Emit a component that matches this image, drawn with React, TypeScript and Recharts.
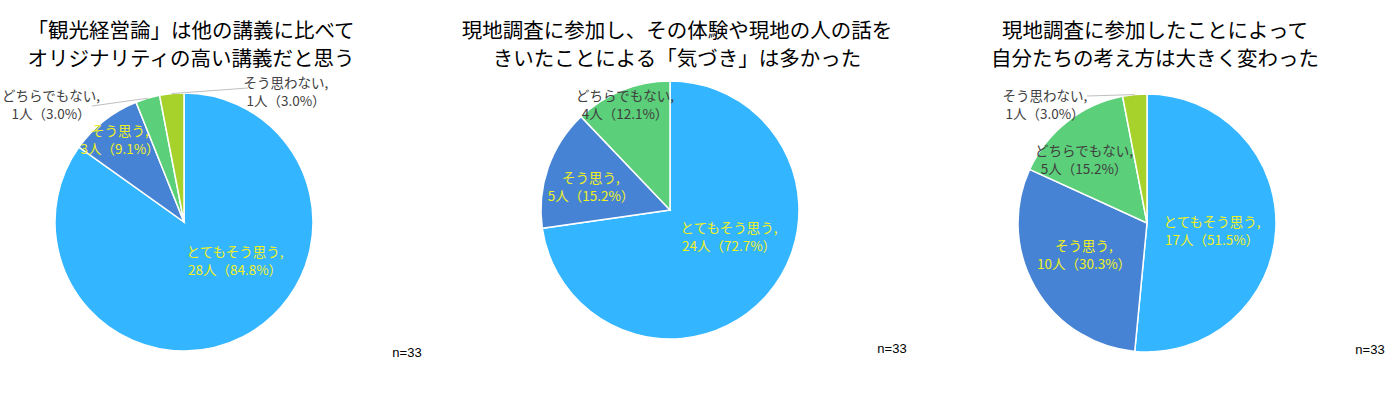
import React from 'react';
import { PieChart, Pie, Cell } from 'recharts';

const categories = ['とてもそう思う', 'そう思う', 'どちらでもない', 'そう思わない'];
const colors = ['#33B5FF', '#4683D4', '#5BCF79', '#A7D12B'];

const titles1 = ['「観光経営論」は他の講義に比べて', 'オリジナリティの高い講義だと思う'];
const titles2 = ['現地調査に参加し、その体験や現地の人の話を', 'きいたことによる「気づき」は多かった'];
const titles3 = ['現地調査に参加したことによって', '自分たちの考え方は大きく変わった'];

const values1 = [28, 3, 1, 1];
const values2 = [24, 5, 4];
const values3 = [17, 10, 5, 1];

const sampleNote = 'n=33';

const YELLOW = '#F0F01E';
const GRAY = '#404040';
const FONT = '"Noto Sans CJK JP", "Noto Sans", sans-serif';

// label placement relative to pie centre (dx, dy of first line), optional leader end
type Place = { dx: number; dy: number; color: string; lx?: number; ly?: number };

const place1: Place[] = [
  { dx: 51, dy: 29, color: YELLOW },
  { dx: -64, dy: -92, color: YELLOW },
  { dx: -133, dy: -127, color: GRAY, lx: -92, ly: -116 },
  { dx: 102, dy: -140, color: GRAY, lx: 64, ly: -134 },
];
const place2: Place[] = [
  { dx: 59, dy: 17, color: YELLOW },
  { dx: -79, dy: -33, color: YELLOW },
  { dx: -45, dy: -115, color: GRAY },
];
const place3: Place[] = [
  { dx: 65, dy: -2, color: YELLOW },
  { dx: -63, dy: 22, color: YELLOW },
  { dx: -63, dy: -73, color: GRAY },
  { dx: -102, dy: -128, color: GRAY, lx: -60, ly: -127 },
];

const RAD = Math.PI / 180;

const makeLabel = (place: Place[], total: number) => (props: any) => {
  const { cx, cy, midAngle, outerRadius, index, value } = props;
  const p = place[index];
  if (!p) return null;
  const name = categories[index];
  const x = cx + p.dx;
  const y = cy + p.dy;
  const pct = ((value / total) * 100).toFixed(1);
  let leader = null;
  if (p.lx !== undefined && p.ly !== undefined) {
    const sx = cx + outerRadius * Math.cos(-midAngle * RAD);
    const sy = cy + outerRadius * Math.sin(-midAngle * RAD);
    leader = <line x1={sx} y1={sy} x2={cx + p.lx} y2={cy + p.ly} stroke="#BFBFBF" strokeWidth={1} />;
  }
  return (
    <g>
      {leader}
      <text x={x} y={y} textAnchor="middle" dominantBaseline="central" fill={p.color} fontSize={13.5} fontFamily={FONT}>
        {name},
      </text>
      <text x={x} y={y + 17.5} textAnchor="middle" dominantBaseline="central" fill={p.color} fontSize={13.5} fontFamily={FONT}>
        {`${value}人（${pct}%）`}
      </text>
    </g>
  );
};

interface PanelProps {
  left: number;
  cx: number;
  cy: number;
  values: number[];
  place: Place[];
  title: string[];
  titleX: number;
  noteX: number;
  noteY: number;
}

const Panel: React.FC<PanelProps> = ({ left, cx, cy, values, place, title, titleX, noteX, noteY }) => {
  const data = values.map((v, i) => ({ name: categories[i], value: v }));
  const total = values.reduce((a, b) => a + b, 0);
  return (
    <div style={{ position: 'absolute', left, top: 0, width: 466, height: 396 }}>
      <PieChart width={466} height={396} margin={{ top: 0, right: 0, bottom: 0, left: 0 }}>
        <Pie
          data={data}
          dataKey="value"
          cx={cx}
          cy={cy}
          outerRadius={129}
          startAngle={90}
          endAngle={-270}
          stroke="#FFFFFF"
          strokeWidth={1.5}
          label={makeLabel(place, total)}
          labelLine={false}
          isAnimationActive={false}
        >
          {data.map((d, i) => (
            <Cell key={`cell-${i}`} fill={colors[i]} />
          ))}
        </Pie>
      </PieChart>
      <div
        style={{
          position: 'absolute',
          left: titleX - 300,
          width: 600,
          top: 15,
          textAlign: 'center',
          fontFamily: FONT,
          fontSize: 20.5,
          lineHeight: '28px',
          color: '#000',
          whiteSpace: 'nowrap',
        }}
      >
        {title[0]}
        <br />
        {title[1]}
      </div>
      <div
        style={{
          position: 'absolute',
          left: noteX - 30,
          width: 60,
          top: noteY - 9,
          textAlign: 'center',
          fontFamily: '"Liberation Sans", Arial, sans-serif',
          fontSize: 13,
          lineHeight: '18px',
          color: '#000',
        }}
      >
        {sampleNote}
      </div>
    </div>
  );
};

export default function App() {
  return (
    <div style={{ position: 'absolute', left: 0, top: 0, width: 1399, height: 396, background: '#fff', overflow: 'hidden' }}>
      <Panel left={0} cx={184} cy={222} values={values1} place={place1} title={titles1} titleX={191} noteX={407} noteY={353} />
      <Panel left={466} cx={204} cy={210} values={values2} place={place2} title={titles2} titleX={211} noteX={426} noteY={349} />
      <Panel left={932} cx={215} cy={223} values={values3} place={place3} title={titles3} titleX={223} noteX={438} noteY={350} />
    </div>
  );
}
